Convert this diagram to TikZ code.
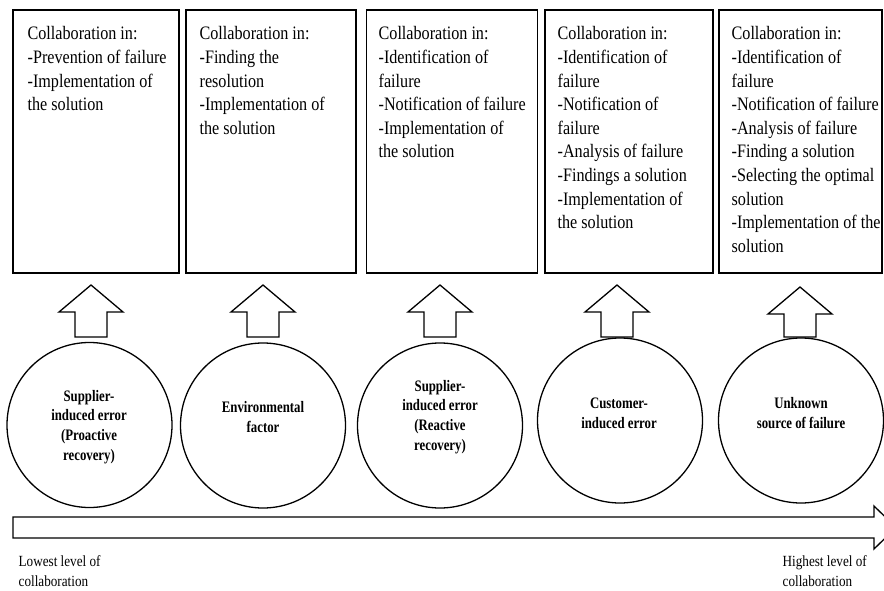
\documentclass[tikz,border=0pt]{standalone}
\usepackage{fontspec}
\setmainfont{Liberation Serif}
\newfontfamily\boxfont[FakeStretch=0.85]{Liberation Serif}
\newfontfamily\circfont[FakeStretch=0.8]{Liberation Serif}
\begin{document}
\begin{tikzpicture}[x=1pt,y=-1pt,line width=1.3pt,
  panel/.style={draw, rectangle, inner sep=0},
  boxtext/.style={anchor=north west, inner sep=0, align=left,
    font=\boxfont\fontsize{19}{23.6}\selectfont},
  circ/.style={draw, circle, minimum size=165, inner sep=0},
  circtext/.style={align=center, inner sep=0,
    font=\circfont\bfseries\fontsize{16}{19.7}\selectfont},
  lowtext/.style={anchor=north west, inner sep=0, align=left,
    font=\boxfont\fontsize{15.5}{19.5}\selectfont},
  blockarrow/.style={draw, fill=white, line width=1.3pt, line join=miter}]
\useasboundingbox (0,0) rectangle (884,591);
\fill[white] (0,0) rectangle (884,591);

% boxes
\node[panel, minimum width=166, minimum height=263] (b1) at (96,141.5) {};
\node[panel, minimum width=170, minimum height=263] (b2) at (271,141.5) {};
\node[panel, minimum width=171, minimum height=263] (b3) at (452,141.5) {};
\node[panel, minimum width=168, minimum height=263] (b4) at (629,141.5) {};
\node[panel, minimum width=163, minimum height=263] (b5) at (800.5,141.5) {};

\node[boxtext] (t1) at (27,26) {Collaboration in:\\-Prevention of failure\\-Implementation of\\the solution};
\node[boxtext] (t2) at (199,26) {Collaboration in:\\-Finding the\\resolution\\-Implementation of\\the solution};
\node[boxtext] (t3) at (378,26) {Collaboration in:\\-Identification of\\failure\\-Notification of failure\\-Implementation of\\the solution};
\node[boxtext] (t4) at (557,26) {Collaboration in:\\-Identification of\\failure\\-Notification of\\failure\\-Analysis of failure\\-Findings a solution\\-Implementation of\\the solution};
\node[boxtext] (t5) at (731,26) {Collaboration in:\\-Identification of\\failure\\-Notification of failure\\-Analysis of failure\\-Finding a solution\\-Selecting the optimal\\solution\\-Implementation of the\\solution};

% up block arrows
\foreach \x/\t in {91/285, 263/285, 440/285, 617/285, 800/287}{
  \draw[blockarrow] (\x-16,337) -- (\x-16,\t+27) -- (\x-32,\t+27) -- (\x,\t)
    -- (\x+32,\t+27) -- (\x+16,\t+27) -- (\x+16,337) -- cycle;
}

% circles
\node[circ] (c1) at (89.5,425) {};
\node[circ] (c2) at (263,425.5) {};
\node[circ] (c3) at (440,425.5) {};
\node[circ] (c4) at (620,420.5) {};
\node[circ] (c5) at (801,420.5) {};

\node[circtext] (l1) at (89,427) {Supplier-\\induced error\\(Proactive\\recovery)};
\node[circtext] (l2) at (263,417) {Environmental\\factor};
\node[circtext] (l3) at (440,417) {Supplier-\\induced error\\(Reactive\\recovery)};
\node[circtext] (l4) at (619,413) {Customer-\\induced error};
\node[circtext] (l5) at (801,413) {Unknown\\source of failure};

% bottom arrow
\begin{scope}
\clip (0,0) rectangle (884,591);
\draw[blockarrow] (13,517) -- (874,517) -- (874,506) -- (896,527.5) -- (874,549)
  -- (874,538) -- (13,538) -- cycle;
\end{scope}

\node[lowtext] (low) at (18,555) {Lowest level of\\collaboration};
\node[lowtext] (high) at (782,555) {Highest level of\\collaboration};
\end{tikzpicture}
\end{document}
